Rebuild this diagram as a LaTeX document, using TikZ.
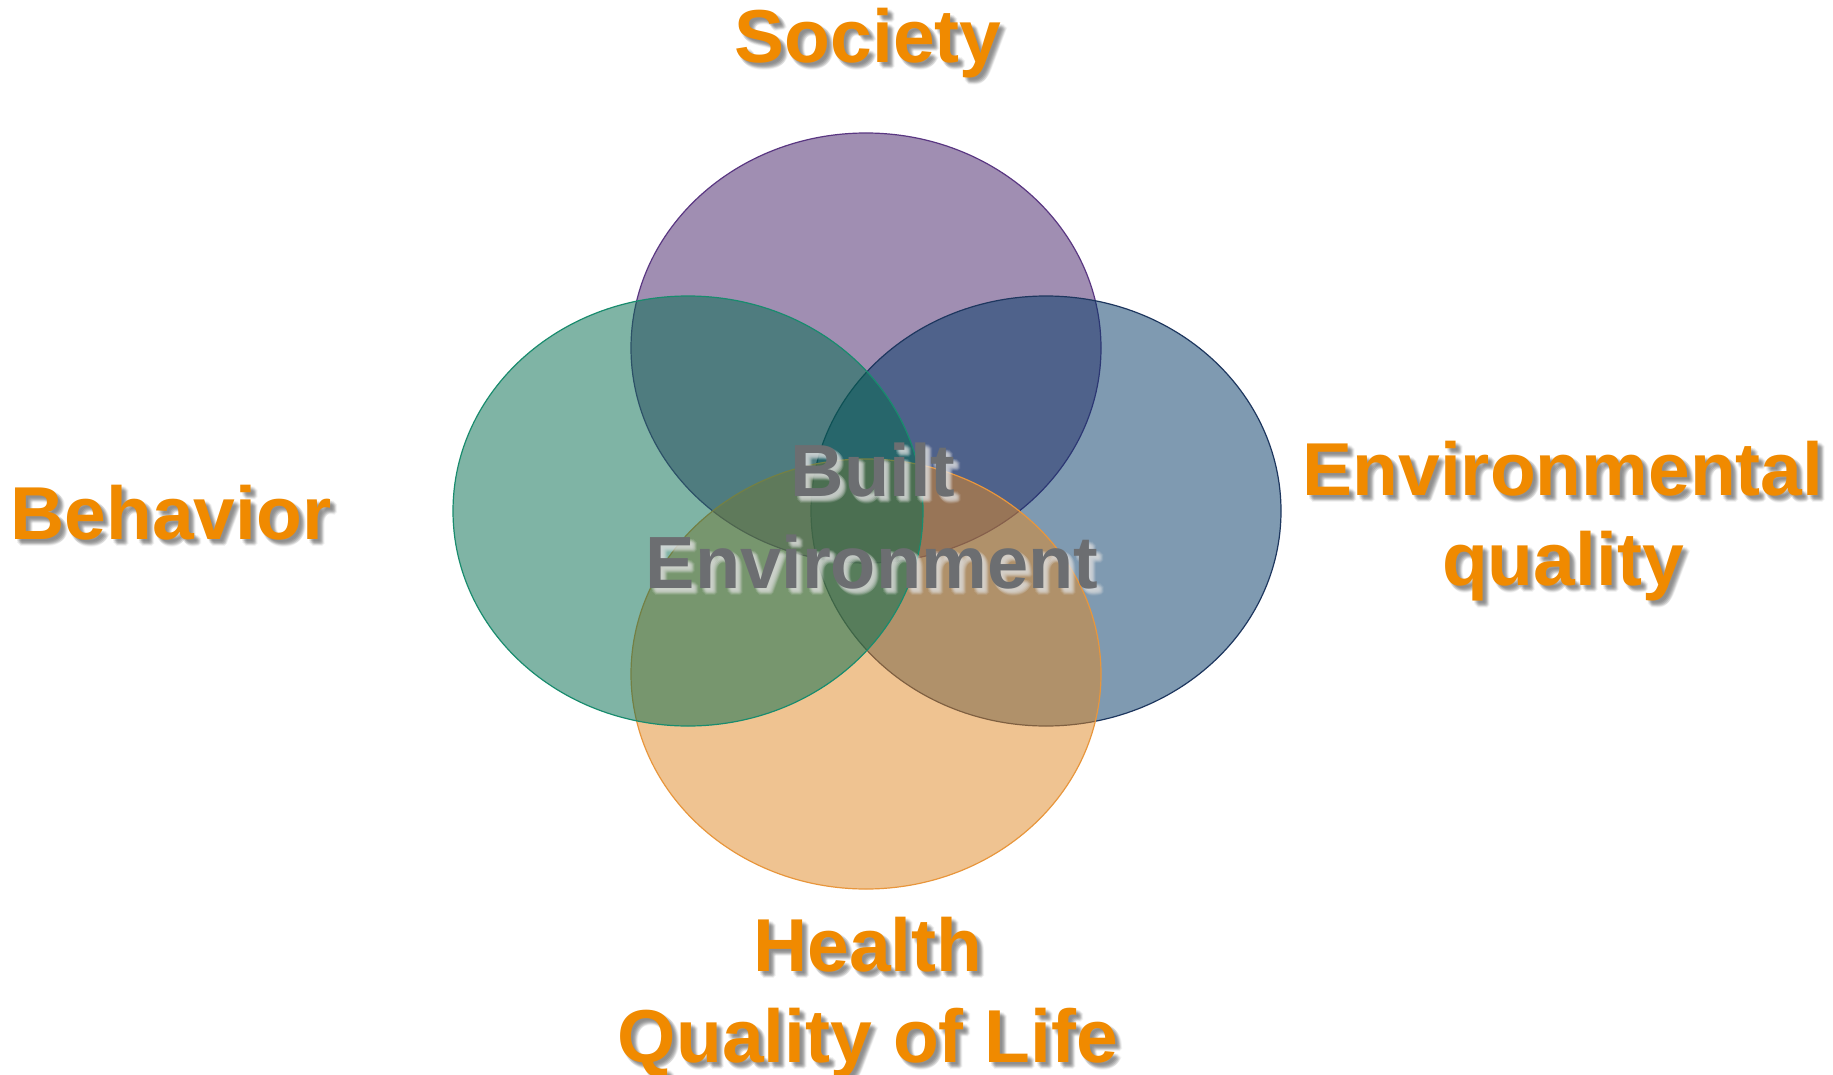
\documentclass[tikz,border=0pt]{standalone}
\usepackage{fontspec}
\setmainfont{Liberation Sans}
\usetikzlibrary{shapes.geometric}

\definecolor{labelorange}{RGB}{240,138,0}
\definecolor{centergray}{RGB}{108,110,113}
\definecolor{labelshadow}{RGB}{90,90,90}
\definecolor{centershadow}{RGB}{225,225,225}
\definecolor{setpurple}{RGB}{67,31,103}
\definecolor{setgreen}{RGB}{0,107,77}
\definecolor{setblue}{RGB}{0,55,101}
\definecolor{setorange}{RGB}{225,137,37}
\definecolor{edgepurple}{RGB}{90,55,130}
\definecolor{edgegreen}{RGB}{25,140,110}
\definecolor{edgeblue}{RGB}{30,55,95}
\definecolor{edgeorange}{RGB}{232,150,60}

% text with a soft drop shadow: name, position, style, shadow colour, shadow opacity, text
\newcommand{\shadowedtext}[6]{%
  \foreach \dx/\dy [count=\k] in {2/2,3/3,4/4,5/5,6/6,3/5,5/3,4/6,6/4,2/4,4/2,5/7,7/5}{
    \node[#3, shift={(\dx,\dy)}, text=#4, text opacity=#5] (#1-shadow-\k) at #2 {#6};
  }
  \node[#3] (#1) at #2 {#6};
}

\begin{document}
\begin{tikzpicture}[x=1pt, y=-1pt,
  venn/.style={ellipse, minimum width=470pt, minimum height=430pt, inner sep=0pt,
               fill opacity=0.5, line width=1.2pt},
  outerlabel/.style={font=\bfseries\fontsize{75}{90}\selectfont, inner sep=0pt,
                     anchor=base, text=labelorange},
  centerlabel/.style={font=\bfseries\fontsize{74}{90}\selectfont, inner sep=0pt,
                      anchor=base, text=centergray}]

\useasboundingbox (0,0) rectangle (1833,1075);
\fill[white] (0,0) rectangle (1833,1075);

% the four overlapping sets
\node[venn, fill=setpurple, draw=edgepurple] (set-society) at (866,348) {};
\node[venn, fill=setblue,   draw=edgeblue]   (set-env)     at (1046,511) {};
\node[venn, fill=setorange, draw=edgeorange] (set-health)  at (866,674) {};
\node[venn, fill=setgreen,  draw=edgegreen]  (set-behav)   at (688,511) {};

% outer labels
\shadowedtext{society}{(868,63)}{outerlabel}{labelshadow}{0.08}{Society}
\shadowedtext{behavior}{(171,539)}{outerlabel}{labelshadow}{0.08}{Behavior}
\shadowedtext{envqual-a}{(1563,495)}{outerlabel}{labelshadow}{0.08}{Environmental}
\shadowedtext{envqual-b}{(1563,585)}{outerlabel}{labelshadow}{0.08}{quality}
\shadowedtext{health-a}{(868,971)}{outerlabel}{labelshadow}{0.08}{Health}
\shadowedtext{health-b}{(868,1062)}{outerlabel}{labelshadow}{0.08}{Quality of Life}

% centre label
\shadowedtext{built-a}{(873,496)}{centerlabel}{centershadow}{0.12}{Built}
\shadowedtext{built-b}{(872,588)}{centerlabel}{centershadow}{0.12}{Environment}

\end{tikzpicture}
\end{document}
